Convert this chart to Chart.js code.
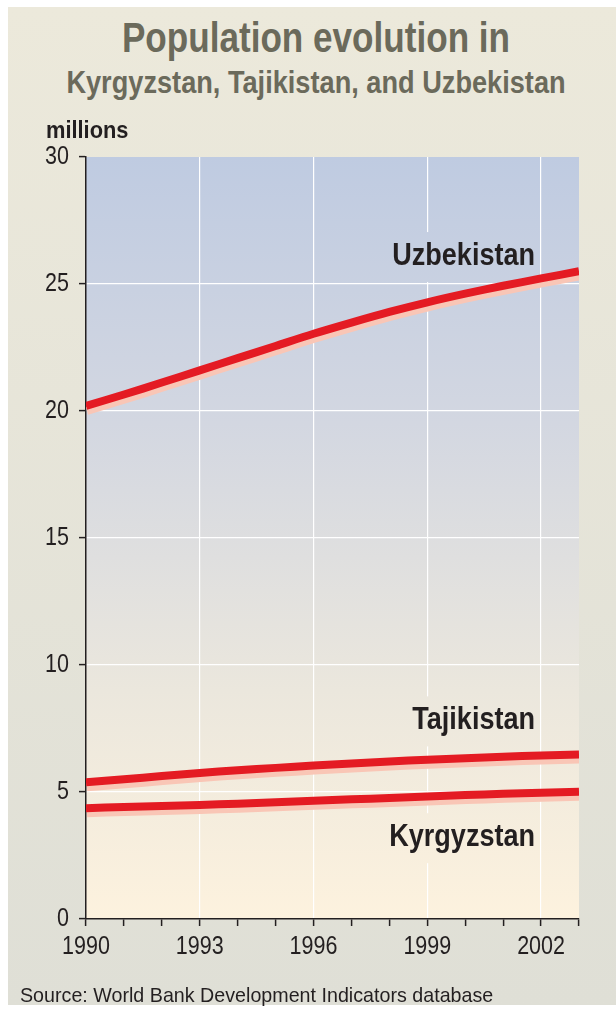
<!DOCTYPE html>
<html lang="en">
<head>
  <meta charset="UTF-8">
  <title>Population evolution in Kyrgyzstan, Tajikistan, and Uzbekistan</title>
  <script src="https://cdn.jsdelivr.net/npm/chart.js"></script>
  <style>
    body {
      margin: 0;
      background: #ffffff;
      font-family: 'Liberation Sans', Arial, sans-serif;
    }
    #page {
      position: relative;
      width: 616px;
      height: 1009px;
      overflow: hidden;
    }
    #panel {
      position: absolute;
      left: 8px;
      top: 7px;
      width: 608px;
      height: 998px;
      background: linear-gradient(#ece9db, #dfdfd6);
    }
    /* the original uses a condensed face, so squeeze the text a little */
    #title, #subtitle {
      position: absolute;
      left: 0;
      width: 632px;
      text-align: center;
      color: #6b6a5b;
      font-weight: bold;
      white-space: nowrap;
      transform-origin: 316px 0;
    }
    #title { top: 14px; font-size: 42px; transform: scaleX(0.836); }
    #subtitle { top: 64px; font-size: 32px; transform: scaleX(0.849); }
    #source {
      position: absolute;
      left: 20px;
      top: 983px;
      font-size: 21px;
      color: #231f20;
      white-space: nowrap;
      transform-origin: 0 0;
      transform: scaleX(0.937);
    }
    canvas { position: absolute; left: 0; top: 0; }
  </style>
</head>
<body>
  <div id="page">
    <div id="panel"></div>
    <div id="title">Population evolution in</div>
    <div id="subtitle">Kyrgyzstan, Tajikistan, and Uzbekistan</div>
    <canvas id="popChart" width="616" height="1009"></canvas>
    <div id="source">Source: World Bank Development Indicators database</div>
  </div>

  <script>
    const FONT = "'Liberation Sans', Arial, sans-serif";

    const years = [1990, 1991, 1992, 1993, 1994, 1995, 1996, 1997, 1998, 1999, 2000, 2001, 2002, 2003];
    const uzbekistan = [20.2, 20.65, 21.12, 21.6, 22.08, 22.56, 23.04, 23.48, 23.9, 24.28, 24.62, 24.93, 25.22, 25.5];
    const tajikistan = [5.38, 5.5, 5.63, 5.75, 5.86, 5.95, 6.04, 6.12, 6.2, 6.27, 6.33, 6.39, 6.44, 6.48];
    const kyrgyzstan = [4.36, 4.41, 4.45, 4.49, 4.54, 4.6, 4.66, 4.71, 4.76, 4.82, 4.88, 4.93, 4.97, 5.01];
    const seriesNames = ['Uzbekistan', 'Tajikistan', 'Kyrgyzstan'];
    const labeledYears = [1990, 1993, 1996, 1999, 2002];
    const yTicks = [0, 5, 10, 15, 20, 25, 30];

    let plotGradient = null;

    function toPoints(values) {
      return years.map((y, i) => ({ x: y, y: values[i] }));
    }

    function narrowText(ctx, text, x, y, sx) {
      ctx.save();
      ctx.translate(x, y);
      ctx.scale(sx, 1);
      ctx.fillText(text, 0, 0);
      ctx.restore();
    }

    // plot area gradient (blue-grey at the top, cream at the bottom)
    const plotBackground = {
      id: 'plotBackground',
      beforeDraw(chart) {
        const { ctx, chartArea: a } = chart;
        plotGradient = ctx.createLinearGradient(0, a.top, 0, a.bottom);
        plotGradient.addColorStop(0, '#bfcbe1');
        plotGradient.addColorStop(0.35, '#d3d7e1');
        plotGradient.addColorStop(0.7, '#ebe7dd');
        plotGradient.addColorStop(1, '#fdf2de');
        ctx.save();
        ctx.fillStyle = plotGradient;
        ctx.fillRect(a.left, a.top, a.right - a.left, a.bottom - a.top);
        ctx.restore();
      }
    };

    // pink shadow under each red line
    const lineShadow = {
      id: 'lineShadow',
      beforeDatasetDraw(chart) {
        const ctx = chart.ctx;
        ctx.save();
        ctx.shadowColor = '#f9c6b6';
        ctx.shadowOffsetX = 1;
        ctx.shadowOffsetY = 5;
        ctx.shadowBlur = 0;
      },
      afterDatasetDraw(chart) {
        chart.ctx.restore();
      }
    };

    // series names, "millions" and the axis numbers
    const textLabels = {
      id: 'textLabels',
      beforeDatasetsDraw(chart) {
        const { ctx, scales: { x, y } } = chart;
        const anchors = [26.1, 7.82, 3.22];
        const right = x.getPixelForValue(2002) - 6;
        ctx.save();
        ctx.font = 'bold 32px ' + FONT;
        ctx.textAlign = 'right';
        ctx.textBaseline = 'middle';
        seriesNames.forEach((name, i) => {
          const py = y.getPixelForValue(anchors[i]);
          const w = ctx.measureText(name).width * 0.846;
          ctx.fillStyle = plotGradient;
          ctx.fillRect(right - w - 4, py - 24, w + 8, 50);
          ctx.fillStyle = '#231f20';
          narrowText(ctx, name, right, py, 0.846);
        });
        ctx.font = 'bold 24px ' + FONT;
        ctx.textAlign = 'left';
        narrowText(ctx, 'millions', 46, 131, 0.91);

        ctx.font = '25px ' + FONT;
        ctx.textAlign = 'center';
        labeledYears.forEach(v => narrowText(ctx, String(v), x.getPixelForValue(v), 947, 0.86));
        ctx.textAlign = 'right';
        yTicks.forEach(v => narrowText(ctx, String(v), 69, y.getPixelForValue(v), 0.86));
        ctx.restore();
      }
    };

    const makeLine = (label, values) => ({
      label: label,
      data: toPoints(values),
      borderColor: '#e41b23',
      borderWidth: 8,
      pointRadius: 0,
      tension: 0.3,
      fill: false
    });

    new Chart(document.getElementById('popChart'), {
      type: 'line',
      data: {
        datasets: [
          makeLine('Uzbekistan', uzbekistan),
          makeLine('Tajikistan', tajikistan),
          makeLine('Kyrgyzstan', kyrgyzstan)
        ]
      },
      options: {
        responsive: false,
        animation: false,
        layout: { padding: { left: 0, right: 37, top: 157, bottom: 40 } },
        plugins: {
          legend: { display: false },
          tooltip: { enabled: false }
        },
        scales: {
          x: {
            type: 'linear',
            min: 1990,
            max: 2003,
            afterFit(scale) { scale.height = 50; },
            ticks: {
              stepSize: 1,
              autoSkip: false,
              maxRotation: 0,
              color: 'rgba(0,0,0,0)',
              font: { family: FONT, size: 25 },
              callback: v => labeledYears.includes(v) ? String(v) : ''
            },
            grid: {
              color: c => (c.tick && labeledYears.includes(c.tick.value) && c.tick.value !== 1990) ? '#ffffff' : 'rgba(0,0,0,0)',
              lineWidth: 1.2,
              tickColor: '#231f20',
              tickLength: 7,
              tickWidth: 1.5
            },
            border: { display: true, color: '#231f20', width: 1.5 }
          },
          y: {
            min: 0,
            max: 30,
            afterFit(scale) { scale.width = 86; },
            ticks: {
              stepSize: 5,
              color: 'rgba(0,0,0,0)',
              font: { family: FONT, size: 25 }
            },
            grid: {
              color: c => (c.tick && c.tick.value > 0 && c.tick.value < 30) ? '#ffffff' : 'rgba(0,0,0,0)',
              lineWidth: 1.2,
              tickColor: '#231f20',
              tickLength: 7,
              tickWidth: 1.5
            },
            border: { display: true, color: '#231f20', width: 1.5 }
          }
        }
      },
      plugins: [plotBackground, lineShadow, textLabels]
    });
  </script>
</body>
</html>
